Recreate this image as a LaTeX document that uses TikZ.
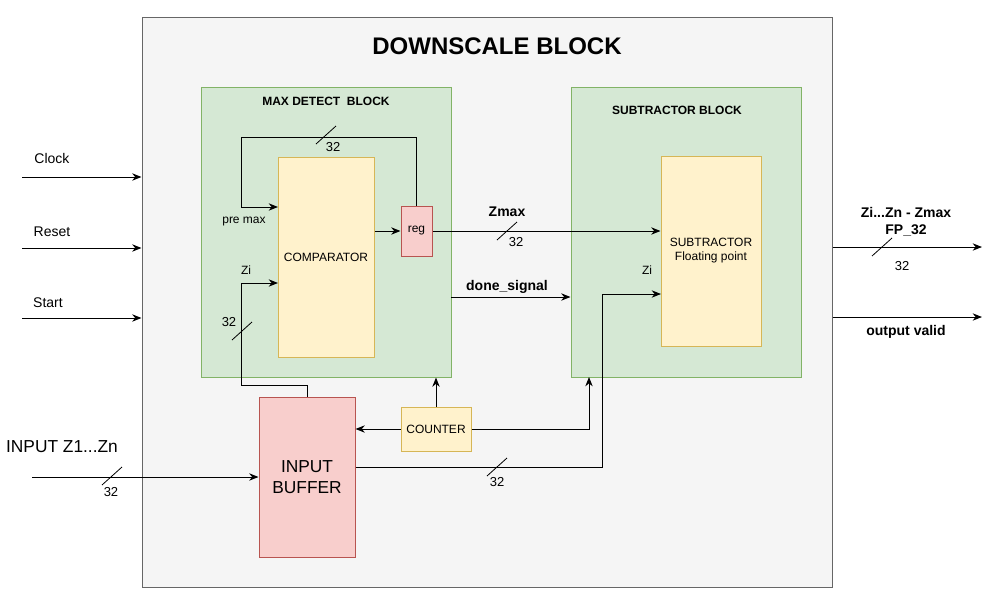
\documentclass[tikz,border=0pt]{standalone}
\usepackage{fontspec}
\setmainfont{Liberation Sans}
\usetikzlibrary{arrows.meta}

\definecolor{outerfill}{HTML}{F5F5F5}
\definecolor{outerline}{HTML}{666666}
\definecolor{greenfill}{HTML}{D5E8D4}
\definecolor{greenline}{HTML}{82B366}
\definecolor{yellowfill}{HTML}{FFF2CC}
\definecolor{yellowline}{HTML}{D6B656}
\definecolor{redfill}{HTML}{F8CECC}
\definecolor{redline}{HTML}{B85450}

% little slash across a bus line
\newcommand{\busmark}[2]{\draw[line width=0.6pt] ({#1-10},{#2+9}) -- ({#1+10},{#2-9});}

\begin{document}
\begin{tikzpicture}[
        x=0.75pt,y=-0.75pt,
        line width=0.75pt,
        arr/.style={-{Stealth[length=7pt,width=5.5pt]}},
        outerbox/.style={draw=outerline,fill=outerfill,inner sep=0pt},
        greenbox/.style={draw=greenline,fill=greenfill,inner sep=0pt},
        yellowbox/.style={draw=yellowline,fill=yellowfill,inner sep=1pt,align=center},
        redbox/.style={draw=redline,fill=redfill,inner sep=1pt,align=center},
        small/.style={font=\fontsize{9}{10.5}\selectfont},
        side/.style={font=\fontsize{10.5}{12}\selectfont},
        width/.style={font=\fontsize{9.75}{11}\selectfont},
        boldlbl/.style={font=\bfseries\fontsize{10.5}{12.5}\selectfont,align=center},
        blocktitle/.style={font=\bfseries\fontsize{9}{10.5}\selectfont}
    ]
    \useasboundingbox (0,0) rectangle (997,601);

    % containers
    \node[
        outerbox,
        minimum width=517.5pt,
        minimum height=427.5pt,
        name=ds
    ] at (487,302) {};
    \node[font=\bfseries\fontsize{18}{20}\selectfont] (dstitle) at (497,46) {DOWNSCALE BLOCK};

    \node[
        greenbox,
        minimum width=187.5pt,
        minimum height=217.5pt,
        name=mdb
    ] at (326,232) {};
    \node[blocktitle] (mdbtitle) at (326,101) {MAX DETECT\ \ BLOCK};

    \node[
        greenbox,
        minimum width=172.5pt,
        minimum height=217.5pt,
        name=sdb
    ] at (686,232) {};
    \node[blocktitle] (sdbtitle) at (677,110) {SUBTRACTOR BLOCK};

    % inner blocks
    \node[
        yellowbox,
        small,
        minimum width=72pt,
        minimum height=150pt,
        name=cmp
    ] at (326,257) {COMPARATOR};

    \node[
        redbox,
        small,
        minimum width=23.25pt,
        minimum height=37.5pt,
        name=reg
    ] at (416.5,231) {reg};

    \node[
        yellowbox,
        small,
        minimum width=75pt,
        minimum height=142.5pt,
        name=subt
    ] at (711,251) {SUBTRACTOR\\Floating point};

    \node[
        yellowbox,
        small,
        minimum width=52.5pt,
        minimum height=33pt,
        name=cnt
    ] at (436,429) {COUNTER};

    \node[
        redbox,
        font=\fontsize{13}{15.5}\selectfont,
        minimum width=72pt,
        minimum height=120pt,
        name=buf
    ] at (307,477) {INPUT\\BUFFER};

    % bend points
    \coordinate (fbtop) at (241,137);
    \coordinate (cmpA) at (278,207);
    \coordinate (ziturn) at (241,385);
    \coordinate (cmpB) at (278,283);
    \coordinate (donept) at (451,297);
    \coordinate (zibend) at (602,467);
    \coordinate (subB) at (661,294);
    \coordinate (cntup) at (589,377);

    % max detect loop
    \draw[arr] (reg.north) |- (fbtop) |- (cmpA);
    \busmark{326}{135}
    \node[width] (w1) at (333,147) {32};
    \node[small] (premax) at (244,222) {pre max};

    \draw[arr] (cmp.east |- reg.west) -- (reg.west);

    \draw[arr] (buf.north) |- (ziturn) |- (cmpB);
    \busmark{242}{331}
    \node[width] (w2) at (229,322) {32};
    \node[small] (zia) at (246,270) {Zi};

    % to subtractor
    \draw[arr] (reg.east) -- (reg.east -| subt.west);
    \busmark{507}{231}
    \node[width] (w3) at (516,242) {32};
    \node[boldlbl] (zmax) at (507,212) {Zmax};

    \draw[arr] (donept) -- (donept -| sdb.west);
    \node[boldlbl] (done) at (507,287) {done\_signal};

    \draw[arr] ([yshift=7.5pt]buf.east) -- (zibend) |- (subB);
    \busmark{497}{467}
    \node[width] (w4) at (497,482) {32};
    \node[small] (zib) at (647,270) {Zi};

    % counter
    \draw[arr] (cnt.north) -- (cnt.north |- mdb.south);
    \draw[arr] (cnt.west) -- (cnt.west -| buf.east);
    \draw[arr] (cnt.east) -| (cntup);

    % inputs
    \coordinate (clkin) at (22,177);
    \coordinate (rstin) at (22,248);
    \coordinate (stin) at (22,318);
    \coordinate (zin) at (32,477);

    \draw[arr] (clkin) -- (clkin -| ds.west);
    \node[side] (clk) at (52,158) {Clock};
    \draw[arr] (rstin) -- (rstin -| ds.west);
    \node[side] (rst) at (52,232) {Reset};
    \draw[arr] (stin) -- (stin -| ds.west);
    \node[side] (st) at (48,303) {Start};

    \draw[arr] (zin) -- (buf.west);
    \busmark{112}{476}
    \node[width] (w5) at (111,492) {32};
    \node[font=\fontsize{13}{15.5}\selectfont] (zinlbl) at (62,447) {INPUT Z1...Zn};

    % outputs
    \coordinate (zout) at (982,247);
    \coordinate (vout) at (982,317);

    \draw[arr] (zout -| ds.east) -- (zout);
    \busmark{882}{247}
    \node[width] (w6) at (902,266) {32};
    \node[boldlbl] (zoutlbl) at (906,222) {Zi...Zn - Zmax\\FP\_32};

    \draw[arr] (vout -| ds.east) -- (vout);
    \node[boldlbl] (voutlbl) at (906,332) {output valid};
\end{tikzpicture}
\end{document}
